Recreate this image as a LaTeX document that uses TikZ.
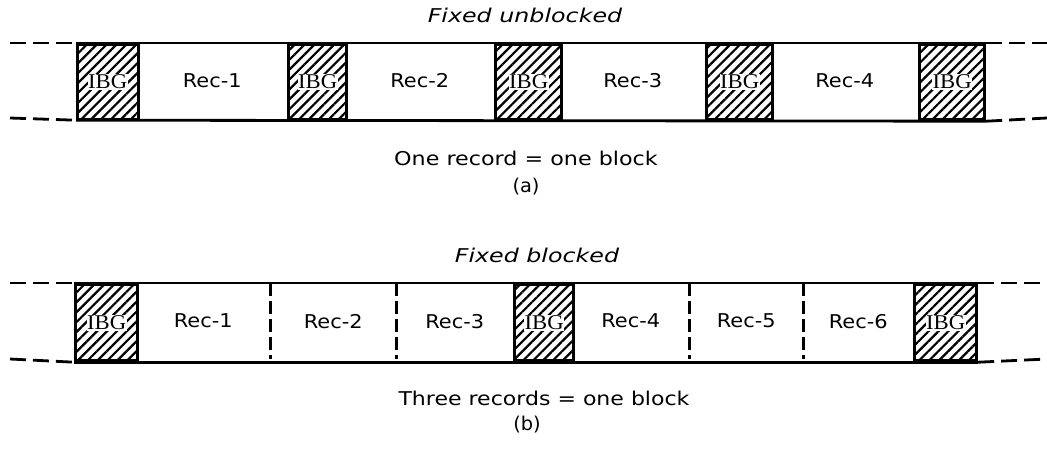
\documentclass[tikz,border=0pt]{standalone}
\usepackage{fontspec}
\setmainfont{DejaVu Sans}
\newfontfamily\ibgfont{Liberation Serif}
\usetikzlibrary{patterns.meta}
\tikzset{
  ibg/.style={draw=black, line width=3.2pt, anchor=north west, inner sep=0pt,
    pattern={Lines[angle=45,distance=7pt,line width=2.2pt]}, pattern color=black},
  ibgtext/.style={fill=white, inner xsep=0.5pt, inner ysep=1pt, font=\ibgfont\fontsize{21}{21}\selectfont},
  cell/.style={anchor=north west, inner sep=0pt, font=\fontsize{19}{19}\selectfont},
  edge/.style={line width=2.8pt},
  ext/.style={line width=2.8pt, dash pattern=on 16pt off 7pt},
  divider/.style={line width=2.4pt, dash pattern=on 13pt off 5pt},
  title/.style={font=\itshape\fontsize{19}{19}\selectfont},
  caption/.style={font=\fontsize{19}{19}\selectfont},
}
\newcommand{\wide}[2]{\scalebox{#1}[1]{#2}}
\begin{document}
\begin{tikzpicture}[x=1pt,y=-1pt]
\useasboundingbox (0,0) rectangle (1047,458);

% ---------- (a) Fixed unblocked ----------
\node[title] (ta) at (525,15) {\wide{1.25}{Fixed unblocked}};

\node[ibg, minimum width=61pt, minimum height=75pt] (a1) at (76,43) {};
\node[cell, minimum width=150pt, minimum height=75pt] (ra1) at (137,43) {\wide{1.1}{Rec-1}};
\node[ibg, minimum width=58pt, minimum height=75pt] (a2) at (287,43) {};
\node[cell, minimum width=149pt, minimum height=75pt] (ra2) at (345,43) {\wide{1.1}{Rec-2}};
\node[ibg, minimum width=66pt, minimum height=75pt] (a3) at (494,43) {};
\node[cell, minimum width=145pt, minimum height=75pt] (ra3) at (560,43) {\wide{1.1}{Rec-3}};
\node[ibg, minimum width=66pt, minimum height=75pt] (a4) at (705,43) {};
\node[cell, minimum width=147pt, minimum height=75pt] (ra4) at (771,43) {\wide{1.1}{Rec-4}};
\node[ibg, minimum width=65pt, minimum height=75pt] (a5) at (918,43) {};

\foreach \n in {a1,a2,a3,a4,a5}
  \node[ibgtext] (\n t) at (\n) {\wide{1.08}{IBG}};

\draw[edge] (a1.north west) -- (a5.north east);
\draw[edge] (a1.south west) -- (a5.south east);

\coordinate (aL1) at (10,43);
\coordinate (aL2) at (10,118);
\coordinate (aR1) at (1047,43);
\coordinate (aR2) at (1047,118);
\draw[ext] (aL1) -- (a1.north west);
\draw[ext] (aL2) -- (a1.south west);
\draw[ext] (a5.north east) -- (aR1);
\draw[ext] (a5.south east) -- (aR2);

\node[caption] (ca) at (526,158) {\wide{1.17}{One record = one block}};
\node[caption] (la) at (526,187) {\wide{1.02}{(a)}};

% ---------- (b) Fixed blocked ----------
\node[title] (tb) at (537,255) {\wide{1.25}{Fixed blocked}};

\node[ibg, minimum width=62pt, minimum height=76pt] (b1) at (74,283) {};
\node[cell, minimum width=134pt, minimum height=76pt] (rb1) at (136,283) {\wide{1.1}{Rec-1}};
\node[cell, minimum width=126pt, minimum height=76pt] (rb2) at (270,283) {\wide{1.1}{Rec-2}};
\node[cell, minimum width=117pt, minimum height=76pt] (rb3) at (396,283) {\wide{1.1}{Rec-3}};
\node[ibg, minimum width=59pt, minimum height=76pt] (b2) at (513,283) {};
\node[cell, minimum width=117pt, minimum height=76pt] (rb4) at (572,283) {\wide{1.1}{Rec-4}};
\node[cell, minimum width=114pt, minimum height=76pt] (rb5) at (689,283) {\wide{1.1}{Rec-5}};
\node[cell, minimum width=110pt, minimum height=76pt] (rb6) at (803,283) {\wide{1.1}{Rec-6}};
\node[ibg, minimum width=62pt, minimum height=76pt] (b3) at (913,283) {};

\foreach \n in {b1,b2,b3}
  \node[ibgtext] (\n t) at (\n) {\wide{1.08}{IBG}};

\draw[edge] (b1.north west) -- (b3.north east);
\draw[edge] (b1.south west) -- (b3.south east);

\foreach \n in {rb1,rb2,rb4,rb5}
  \draw[divider] (\n.north east) -- (\n.south east);

\coordinate (bL1) at (10,283);
\coordinate (bL2) at (10,359);
\coordinate (bR1) at (1047,283);
\coordinate (bR2) at (1047,359);
\draw[ext] (bL1) -- (b1.north west);
\draw[ext] (bL2) -- (b1.south west);
\draw[ext] (b3.north east) -- (bR1);
\draw[ext] (b3.south east) -- (bR2);

\node[caption] (cb) at (544,398) {\wide{1.16}{Three records = one block}};
\node[caption] (lb) at (527,425) {\wide{1.02}{(b)}};
\end{tikzpicture}
\end{document}
